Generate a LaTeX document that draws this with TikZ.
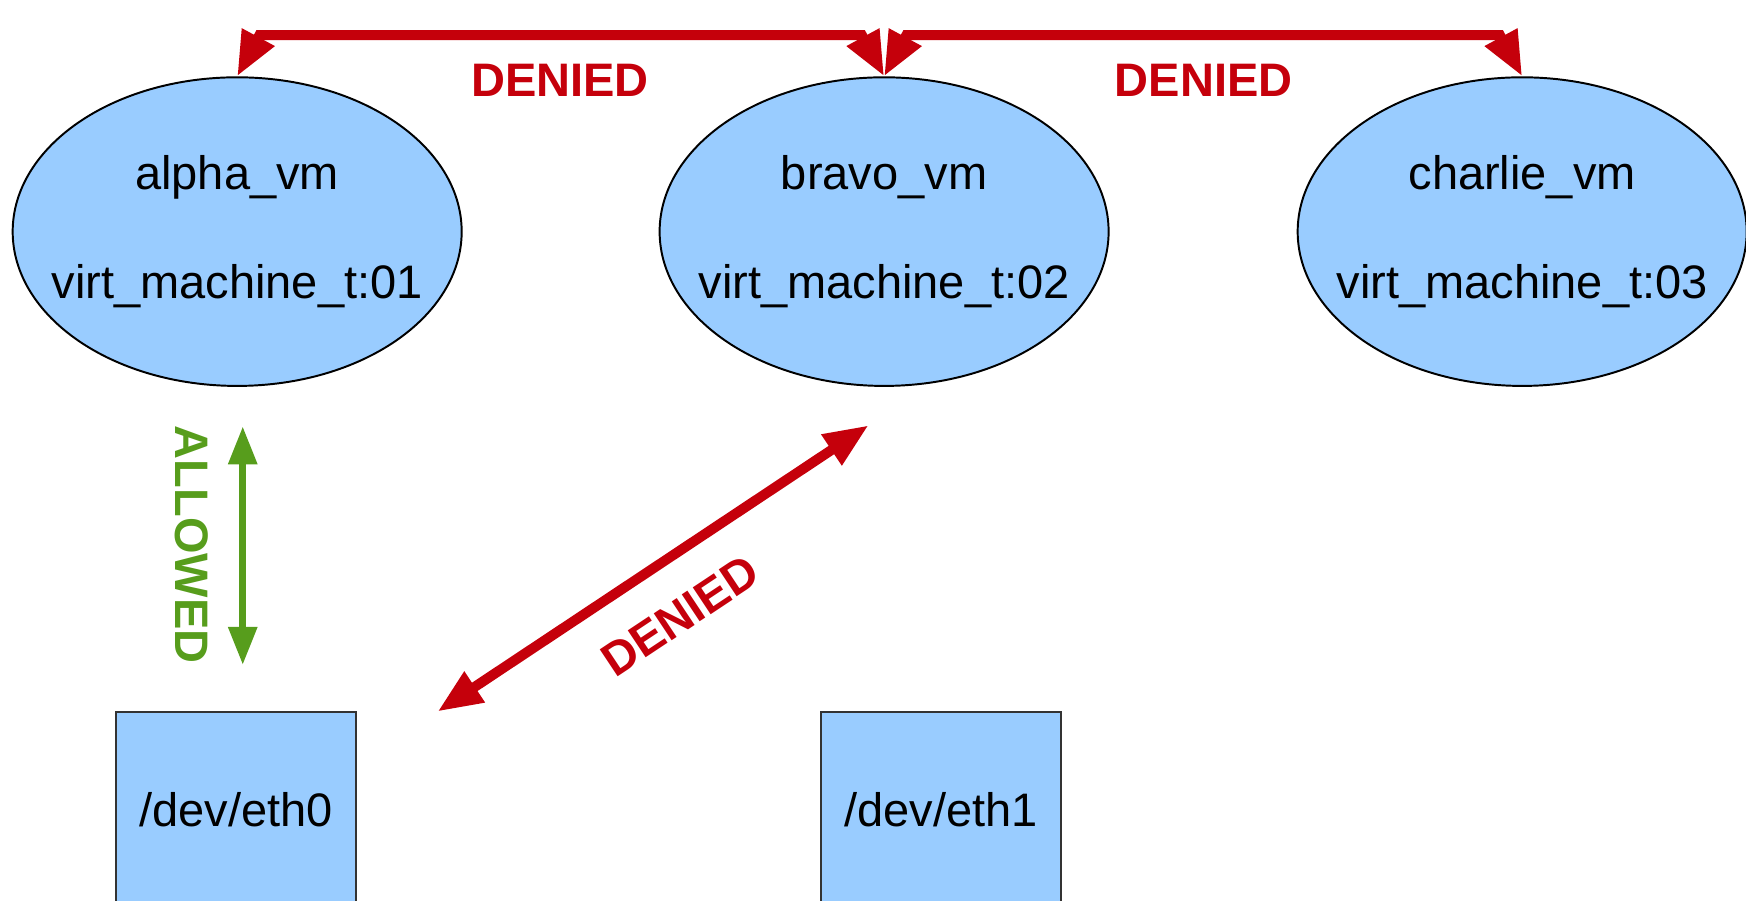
\documentclass[tikz,border=0pt]{standalone}
\usepackage{fontspec}
\setmainfont{Liberation Sans}
\usetikzlibrary{arrows.meta,shapes.geometric,calc}
\definecolor{vmblue}{HTML}{99CCFF}
\definecolor{denyred}{HTML}{C5000B}
\definecolor{allowgreen}{HTML}{579D1C}
\newcommand{\vmtext}[2]{\makebox[0pt]{#1}\\[13.2pt]\makebox[0pt]{#2}}

\begin{document}
\begin{tikzpicture}[x=0.01cm,y=-0.01cm]
\tikzstyle{every node}=[font=\fontsize{12}{14.4}\selectfont]
\tikzstyle{vm}=[ellipse, draw=black, line width=0.5pt, fill=vmblue, minimum width=4.03cm, minimum height=2.77cm, inner sep=0pt, align=center]
\tikzstyle{dev}=[rectangle, draw=black!80, line width=0.5pt, fill=vmblue, minimum width=2.15cm, minimum height=1.75cm]
\tikzstyle{deny}=[draw=denyred, line width=0.09cm, {Triangle[length=0.40cm,width=0.31cm]}-{Triangle[length=0.40cm,width=0.31cm]}]
\tikzstyle{allow}=[draw=allowgreen, line width=0.06cm, {Triangle[length=0.34cm,width=0.25cm]}-{Triangle[length=0.34cm,width=0.25cm]}]
\tikzstyle{denytext}=[text=denyred, font=\fontsize{12}{14.4}\selectfont\bfseries]
\tikzstyle{allowtext}=[text=allowgreen, font=\fontsize{12}{14.4}\selectfont\bfseries]
\useasboundingbox (0,0) rectangle (1568,809);
\draw (213,208) node (vm1) [vm] {\vmtext{alpha\_vm}{virt\_machine\_t:01}};
\draw (794,208) node (vm2) [vm] {\vmtext{bravo\_vm}{virt\_machine\_t:02}};
\draw (1367,208) node (vm3) [vm] {\vmtext{charlie\_vm}{virt\_machine\_t:03}};
\draw (212,727) node (eth0) [dev] {/dev/eth0};
\draw (845,727) node (eth1) [dev] {/dev/eth1};
\coordinate (g1) at (218,383);
\coordinate (g2) at (218,597);
\coordinate (r1) at (393,639);
\coordinate (r2) at (780,382);
\draw[deny] (vm1.north) -- ++(20,-37) -- ($(vm2.north)+(-20,-37)$) -- (vm2.north);
\draw[deny] (vm2.north) -- ++(20,-37) -- ($(vm3.north)+(-20,-37)$) -- (vm3.north);
\draw[allow] (g1) -- (g2);
\draw[deny] (r1) -- (r2);
\draw (503,72) node (l1) [denytext] {DENIED};
\draw (1081,72) node (l2) [denytext] {DENIED};
\draw (611,553) node (l3) [denytext, rotate=33.6] {DENIED};
\draw (172,489) node (l4) [allowtext, rotate=-90] {ALLOWED};
\end{tikzpicture}
\end{document}
